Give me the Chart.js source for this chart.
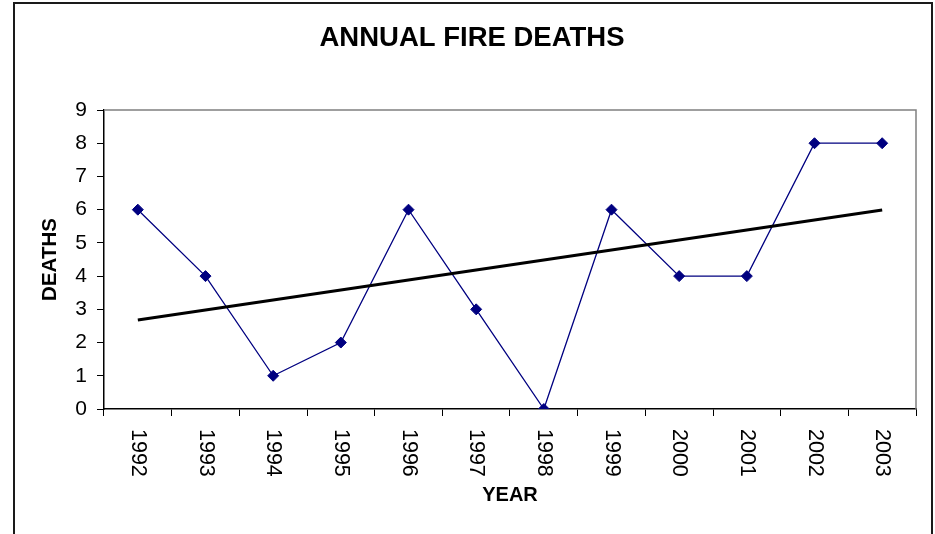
<!DOCTYPE html>
<html>
<head>
<meta charset="utf-8">
<script src="https://cdn.jsdelivr.net/npm/chart.js@4"></script>
<style>
  html, body { margin: 0; padding: 0; background: #fff; }
  #wrap { position: relative; width: 935px; height: 534px; overflow: hidden; }
  #frame { position: absolute; left: 13px; top: 2px; width: 916px; height: 600px; border: 2px solid #1a1a1a; }
  #chart { position: absolute; left: 0; top: 0; }
</style>
</head>
<body>
<div id="wrap">
  <div id="frame"></div>
  <canvas id="chart" width="935" height="534"></canvas>
</div>
<script>
const years = ["1992", "1993", "1994", "1995", "1996", "1997", "1998", "1999", "2000", "2001", "2002", "2003"];
const deaths = [6, 4, 1, 2, 6, 3, 0, 6, 4, 4, 8, 8];
// trend line read at its two ends
const trend = [2.68, null, null, null, null, null, null, null, null, null, null, 5.99];
const yTicks = [0, 1, 2, 3, 4, 5, 6, 7, 8, 9];

const FONT = "'Liberation Sans', Arial, sans-serif";

// gray border on top and right of the plot area
const plotBorder = {
  id: "plotBorder",
  beforeDatasetsDraw(chart) {
    const { ctx, chartArea: a } = chart;
    ctx.save();
    ctx.strokeStyle = "#808080";
    ctx.lineWidth = 1.5;
    ctx.beginPath();
    ctx.moveTo(a.left, a.top);
    ctx.lineTo(a.right, a.top);
    ctx.lineTo(a.right, a.bottom);
    ctx.stroke();
    ctx.restore();
  }
};

// year labels turned clockwise, reading top to bottom
const xLabels = {
  id: "xLabels",
  afterDraw(chart) {
    const { ctx } = chart;
    const x = chart.scales.x;
    ctx.save();
    ctx.fillStyle = "#000";
    ctx.font = "21.5px " + FONT;
    ctx.textAlign = "left";
    ctx.textBaseline = "middle";
    years.forEach((y, i) => {
      ctx.save();
      ctx.translate(x.getPixelForTick(i), x.bottom - 105);
      ctx.rotate(Math.PI / 2);
      ctx.fillText(y, 0, 0);
      ctx.restore();
    });
    ctx.restore();
  }
};

new Chart(document.getElementById("chart"), {
  type: "line",
  data: {
    labels: years,
    datasets: [
      {
        label: "Trend",
        data: trend,
        spanGaps: true,
        borderColor: "#000",
        borderWidth: 3,
        pointRadius: 0,
        order: 0
      },
      {
        label: "Deaths",
        data: deaths,
        borderColor: "#000080",
        backgroundColor: "#000080",
        borderWidth: 1.3,
        pointStyle: "rectRot",
        pointRadius: 5.5,
        pointBorderWidth: 1,
        tension: 0,
        order: 1
      }
    ]
  },
  options: {
    responsive: false,
    animation: false,
    layout: { padding: { top: 0, left: 28, right: 19, bottom: 0 } },
    plugins: {
      legend: { display: false },
      tooltip: { enabled: false },
      title: {
        display: true,
        text: "ANNUAL FIRE DEATHS",
        color: "#000",
        font: { family: FONT, size: 27.5, weight: "bold" },
        padding: { top: 22, bottom: 55 }
      }
    },
    scales: {
      x: {
        offset: true,
        afterFit(s) { s.height = 125; },
        grid: { display: true, offset: true, drawOnChartArea: false, drawTicks: true, tickLength: 7, color: "#000", lineWidth: 1 },
        border: { display: true, color: "#000", width: 1.5 },
        ticks: { display: false },
        title: {
          display: true,
          text: "YEAR",
          color: "#000",
          font: { family: FONT, size: 20, weight: "bold" },
          padding: { top: 0, bottom: 27 }
        }
      },
      y: {
        min: 0,
        max: 9,
        afterFit(s) { s.width = 76; },
        afterBuildTicks(s) { s.ticks = yTicks.map(v => ({ value: v })); },
        grid: { drawOnChartArea: false, drawTicks: true, tickLength: 7, color: "#000", lineWidth: 1 },
        border: { display: true, color: "#000", width: 1.5 },
        ticks: { color: "#000", font: { family: FONT, size: 21 }, padding: 10 },
        title: {
          display: true,
          text: "DEATHS",
          color: "#000",
          font: { family: FONT, size: 20.5, weight: "bold" },
          padding: { top: 10, bottom: 0 }
        }
      }
    }
  },
  plugins: [plotBorder, xLabels]
});
</script>
</body>
</html>
